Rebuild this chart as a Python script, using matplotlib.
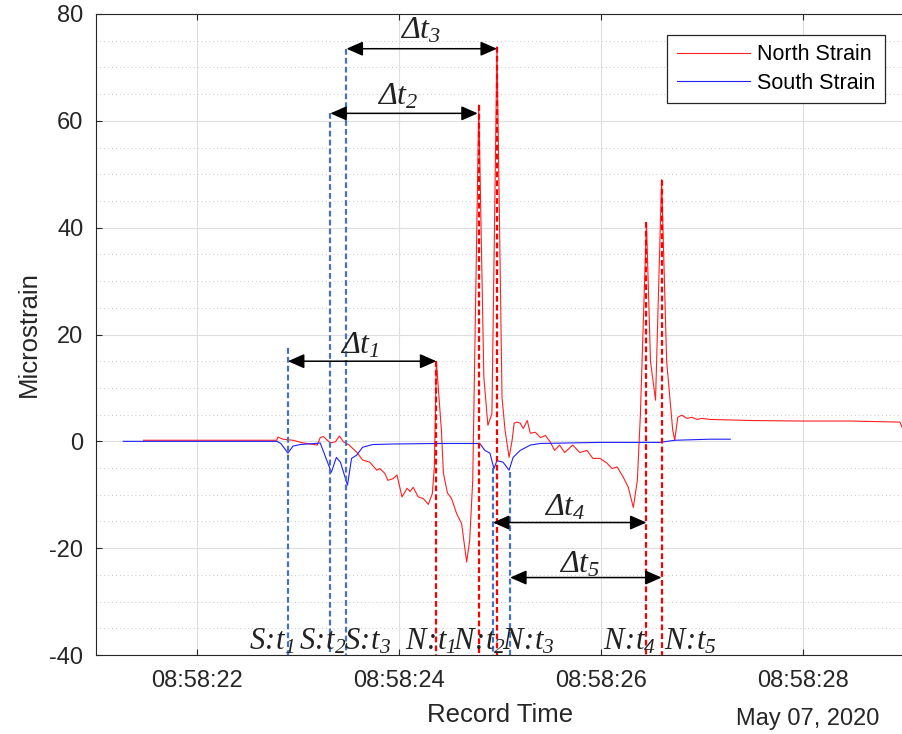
import numpy as np
import matplotlib.pyplot as plt
from matplotlib.ticker import FuncFormatter, MultipleLocator

plt.rcParams['font.family'] = ['Liberation Sans', 'DejaVu Sans']
plt.rcParams['mathtext.fontset'] = 'custom'
plt.rcParams['mathtext.rm'] = 'Liberation Serif:italic'
plt.rcParams['mathtext.it'] = 'Liberation Serif:italic'
plt.rcParams['axes.unicode_minus'] = False

# time is in seconds after 08:58:00, strain in microstrain
north_t = [21.47, 22.79, 22.80, 22.85, 22.95, 23.05, 23.19, 23.22, 23.25, 23.32,
           23.37, 23.41, 23.45, 23.50, 23.58, 23.64, 23.71, 23.78, 23.81, 23.86,
           23.89, 23.94, 23.98, 24.03, 24.08, 24.11, 24.14, 24.19, 24.24, 24.29,
           24.33, 24.35, 24.37, 24.42, 24.44, 24.48, 24.52, 24.57, 24.62, 24.67,
           24.70, 24.73, 24.79, 24.84, 24.88, 24.92, 24.97, 25.02, 25.05, 25.09,
           25.12, 25.14, 25.17, 25.20, 25.23, 25.27, 25.30, 25.35, 25.40, 25.45,
           25.50, 25.54, 25.59, 25.64, 25.72, 25.79, 25.86, 25.92, 25.99, 26.06,
           26.11, 26.16, 26.22, 26.27, 26.32, 26.36, 26.39, 26.45, 26.49, 26.54,
           26.60, 26.65, 26.71, 26.73, 26.76, 26.80, 26.85, 26.90, 26.95, 27.00,
           27.08, 27.48, 27.97, 28.47, 28.96, 28.99]
north_v = [0.2, 0.2, 0.8, 0.4, 0.2, -0.3, -0.7, 0.7, 0.9, -0.3,
           -0.1, 1.0, -0.1, -0.6, -2.0, -3.5, -3.9, -5.4, -5.1, -6.0,
           -7.3, -7.0, -6.3, -10.4, -8.8, -9.4, -8.6, -10.4, -10.7, -11.8,
           -9.8, -4.8, 15.0, 2.0, -6.0, -9.7, -10.7, -13.5, -15.4, -22.6,
           -18.5, -7.3, 63.0, 12.0, 3.0, 5.2, 73.9, 8.2, 2.1, -3.0,
           0.2, 3.4, 3.6, 3.4, 2.4, 3.9, 1.5, 1.7, 0.7, 1.1,
           -0.2, -1.7, -0.7, -2.1, -0.7, -2.1, -1.7, -3.2, -3.2, -4.1,
           -5.1, -4.8, -6.7, -8.6, -12.4, -7.3, 5.0, 41.0, 15.0, 7.7,
           49.0, 15.0, 2.1, 0.2, 4.5, 4.9, 4.3, 4.5, 4.1, 4.3,
           4.1, 3.9, 3.8, 3.8, 3.6, 2.2]

south_t = [21.27, 22.79, 22.83, 22.90, 22.95, 23.02, 23.17, 23.22, 23.33, 23.38,
           23.42, 23.49, 23.53, 23.58, 23.64, 23.74, 23.94, 24.38, 24.80, 24.85,
           24.90, 24.94, 24.97, 25.03, 25.09, 25.13, 25.20, 25.30, 25.40, 25.69,
           25.99, 26.58, 26.73, 27.08, 27.28]
south_v = [0.0, 0.0, -0.4, -2.2, -0.9, -0.6, -0.4, -0.3, -5.8, -3.0,
           -3.9, -8.2, -3.2, -2.6, -1.1, -0.6, -0.5, -0.4, -0.4, -1.7,
           -2.2, -5.1, -3.6, -3.9, -5.4, -3.0, -1.7, -0.7, -0.4, -0.3,
           -0.2, -0.2, 0.2, 0.4, 0.4]

# dashed event markers: time and the strain where the marker starts
south_mark_t = [22.90, 23.32, 23.48, 24.93, 25.10]
south_mark_v = [17.5, 61.4, 73.5, -5.0, -5.8]
north_mark_t = [24.37, 24.79, 24.97, 26.45, 26.60]
north_mark_v = [15.0, 63.0, 73.9, 41.0, 49.0]

# delay arrows
dt_names = [r'$Δt_1$', r'$Δt_2$', r'$Δt_3$', r'$Δt_4$', r'$Δt_5$']
dt_start = [22.90, 23.32, 23.48, 24.93, 25.10]
dt_end = [24.37, 24.78, 24.97, 26.45, 26.60]
dt_level = [15.0, 61.4, 73.5, -15.2, -25.5]
dt_label_t = [23.61, 23.99, 24.21, 25.64, 25.79]
dt_label_v = [18.0, 64.5, 77.0, -12.3, -23.0]

# labels along the bottom
event_names = [r'$S\!:\!t_1$', r'$S\!:\!t_2$', r'$S\!:\!t_3$',
               r'$N\!:\!t_1$', r'$N\!:\!t_2$', r'$N\!:\!t_3$',
               r'$N\!:\!t_4$', r'$N\!:\!t_5$']
event_t = [22.74, 23.25, 23.69, 24.31, 24.80, 25.28, 26.28, 26.88]

axis_col = '#262626'

fig = plt.figure(figsize=(9.02, 7.34), dpi=100)
ax = fig.add_axes([96 / 902, 79 / 734, 808 / 902, 641 / 734])

ax.plot(north_t, north_v, color='#ff2020', lw=0.8, label='North Strain', zorder=3)
ax.plot(south_t, south_v, color='#2020ff', lw=0.8, label='South Strain', zorder=3)

for t, v in zip(south_mark_t, south_mark_v):
    ax.plot([t, t], [v, -40], color='#4472c4', lw=1.6, ls=(0, (2.6, 1.4)), zorder=4)
for t, v in zip(north_mark_t, north_mark_v):
    ax.plot([t, t], [v, -40], color='#ff0000', lw=1.6, ls=(0, (2.6, 1.4)), zorder=4)

for a, b, lv in zip(dt_start, dt_end, dt_level):
    ax.annotate('', xy=(b, lv), xytext=(a, lv),
                arrowprops=dict(arrowstyle='<|-|>,head_length=0.5,head_width=0.22',
                                mutation_scale=20, color='black', lw=1.1,
                                shrinkA=0, shrinkB=0), zorder=5)
for name, t, v in zip(dt_names, dt_label_t, dt_label_v):
    ax.text(t, v, name, fontsize=23, ha='center', va='center', color='#222222', zorder=6)

for name, t in zip(event_names, event_t):
    ax.text(t, -40.3, name, fontsize=22, ha='center', va='bottom', color='#222222', zorder=6)

ax.set_xlim(21, 29)
ax.set_ylim(-40, 80)
ax.xaxis.set_major_locator(MultipleLocator(2))
ax.xaxis.set_major_formatter(FuncFormatter(lambda x, p: '08:58:%02d' % round(x)))
ax.yaxis.set_major_locator(MultipleLocator(20))
ax.yaxis.set_minor_locator(MultipleLocator(5))

ax.grid(True, which='major', color='#dedede', lw=0.8)
ax.grid(True, which='minor', axis='y', color='#c8c8c8', lw=0.7, ls=(0, (1, 3)))
ax.set_axisbelow(True)

ax.tick_params(axis='both', which='major', direction='in', length=4, width=0.8,
               colors=axis_col, labelsize=17, top=True)
ax.tick_params(axis='x', which='major', pad=11)
ax.tick_params(axis='y', which='major', pad=9)
ax.tick_params(axis='y', which='minor', length=0)
for s in ['left', 'bottom', 'top']:
    ax.spines[s].set_color(axis_col)
    ax.spines[s].set_linewidth(0.8)
ax.spines['right'].set_visible(False)

ax.set_xlabel('Record Time', fontsize=18.5, color=axis_col, labelpad=8)
ax.set_ylabel('Microstrain', fontsize=18.5, color=axis_col, labelpad=6)

ax.annotate('May 07, 2020', xy=(28.05, 0), xycoords=('data', 'axes fraction'),
            xytext=(0, -46), textcoords='offset points', ha='center', va='center',
            fontsize=17, color=axis_col)

leg = ax.legend(loc='upper right', bbox_to_anchor=(0.976, 0.968), fontsize=15.5,
                handlelength=3.4, handletextpad=0.3, labelspacing=0.35,
                borderpad=0.45, fancybox=False, framealpha=1, borderaxespad=0)
leg.get_frame().set_edgecolor(axis_col)
leg.get_frame().set_linewidth(0.9)

fig.savefig('out.png', dpi=100)
